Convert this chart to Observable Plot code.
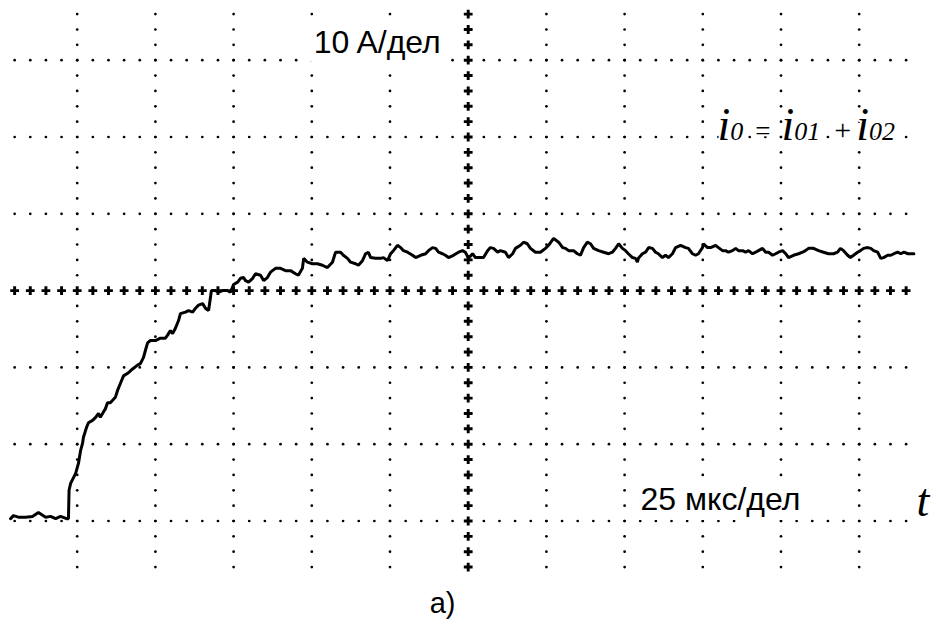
<!DOCTYPE html>
<html><head><meta charset="utf-8">
<script src="https://cdn.jsdelivr.net/npm/d3@7"></script>
<script src="https://cdn.jsdelivr.net/npm/@observablehq/plot@0.6"></script>
<style>body{margin:0;background:#fff} svg{display:block}</style>
</head><body><div id="chart"></div>
<script>
// time in μs (25 μs per division), current in A (10 A per division)
const traceT = [-21.3,-20.4,-18.8,-16.5,-14.3,-12.4,-10.1,-8.5,-6.9,-5.3,
-3.4,-2.8,-2.6,-2.1,-0.5,0.4,1.1,1.7,2.0,3.0,
3.6,4.9,5.9,6.8,7.4,8.1,9.0,9.7,10.6,12.2,
12.9,13.8,14.8,16.4,17.7,19.3,20.2,21.2,21.8,22.5,
23.4,25.0,26.6,28.2,28.9,29.8,30.5,31.4,32.4,33.0,
34.6,35.6,36.9,37.8,38.8,40.1,41.0,42.0,42.6,42.9,
44.2,45.2,46.5,48.1,49.0,50.0,51.3,52.2,53.2,53.8,
54.8,56.1,57.0,58.6,59.6,60.8,61.8,63.4,65.0,66.6,
68.2,69.8,70.7,72.0,72.4,73.6,75.2,76.8,78.4,80.0,
81.6,82.6,84.2,85.1,86.4,87.4,89.0,89.9,91.2,92.2,
93.1,93.8,95.4,97.0,97.9,99.2,100.2,101.1,102.4,103.4,
104.3,105.6,107.2,108.2,109.8,111.4,112.3,113.6,114.6,115.5,
116.8,117.7,118.7,120.3,121.9,123.2,124.1,125.1,126.4,127.3,
128.3,129.9,131.2,132.1,133.1,134.4,135.3,136.9,137.9,139.2,
140.1,141.7,142.7,143.9,144.9,146.5,148.1,149.7,150.7,152.3,
153.9,155.2,156.1,157.1,158.7,159.9,160.9,161.9,163.1,164.1,
165.1,166.7,168.3,169.9,171.1,172.1,173.1,174.3,175.3,176.2,
177.5,178.5,179.1,179.4,180.7,181.7,182.7,183.9,184.9,185.8,
187.1,188.1,189.0,190.3,191.3,192.9,194.5,195.4,196.7,197.7,
198.6,199.9,200.2,201.5,202.5,204.1,205.0,206.3,207.3,208.2,
209.5,210.5,211.4,212.7,213.7,214.6,215.9,216.9,217.8,219.1,
220.1,221.0,222.3,223.3,224.2,225.5,226.5,227.4,229.0,230.6,
231.9,232.8,233.8,235.4,237.0,238.6,240.2,241.8,243.1,244.0,
245.0,246.3,247.2,248.2,249.5,250.4,251.4,252.7,253.7,254.6,
255.9,256.9,257.8,259.1,260.1,261.1,262.3,263.3,264.3,265.6,
266.5,267.5];
const traceI = [0.3,0.7,0.5,0.5,0.6,1.1,0.5,0.6,0.3,0.6,
0.3,0.3,4.0,4.9,6.2,7.5,9.2,10.1,10.9,12.2,
12.8,13.1,13.5,14.0,13.5,14.0,14.6,15.4,15.4,16.1,
17.0,17.9,18.9,19.3,19.8,20.3,20.5,21.3,22.2,23.2,
23.5,23.5,23.8,23.8,24.2,24.8,24.4,25.1,26.1,27.0,
27.2,27.4,27.2,27.7,28.1,28.3,27.7,27.4,29.1,30.0,
30.0,29.8,30.0,30.0,29.8,30.8,31.1,31.6,31.7,31.3,
31.1,31.6,32.2,32.0,31.3,31.7,32.4,32.9,32.9,32.6,
32.6,32.2,32.0,32.9,34.2,33.7,33.5,33.5,33.3,33.0,
33.7,35.0,35.0,34.6,34.2,33.7,33.5,33.3,33.9,34.8,
35.0,34.3,34.2,34.2,34.3,33.9,34.8,35.2,35.9,35.6,
35.2,35.0,34.6,34.3,34.6,34.8,35.2,35.6,35.5,35.0,
34.8,34.6,34.3,34.6,35.0,35.2,35.0,34.2,34.8,34.3,
34.3,34.3,35.2,35.6,35.5,35.0,35.2,35.0,34.3,34.8,
35.5,35.9,36.3,36.1,35.5,35.0,35.0,35.5,35.9,36.8,
36.3,35.6,35.5,35.2,35.2,34.8,34.6,35.6,36.3,36.1,
35.5,35.2,35.0,34.8,35.0,35.5,36.1,35.5,35.2,34.8,
34.3,34.2,33.7,34.2,34.8,35.0,35.6,35.5,35.0,34.8,
34.3,34.6,34.3,34.8,35.6,35.9,35.6,35.5,34.8,34.6,
34.8,35.6,36.1,35.6,35.6,35.9,35.6,35.2,35.2,35.0,
35.2,35.5,35.2,35.2,35.0,35.2,34.8,35.0,35.2,35.5,
35.0,35.0,34.6,34.8,35.0,35.2,34.8,34.3,34.6,34.8,
35.0,35.2,35.5,35.5,35.2,35.0,34.8,34.8,35.0,35.5,
35.2,34.6,34.3,34.6,35.0,35.2,35.5,35.6,35.5,35.2,
35.0,34.2,34.3,34.6,34.6,34.8,35.0,34.8,35.0,34.8,
34.8,34.8];

// graticule divisions
const timeDivs = [0, 25, 50, 75, 100, 125, 150, 175, 200, 225, 250];
const currentDivs = [0, 10, 20, 30, 40, 50, 60];
const centerT = 125, centerI = 30;

const labelCurrentScale = "10 A/дел";
const labelTimeScale = "25 мкс/дел";
const labelFormula = "i0 = i01 + i02";
const labelAxis = "t";
const caption = "a)";

const n = Math.min(traceT.length, traceI.length);
const trace = d3.range(n).map(k => ({t: traceT[k], i: traceI[k]}));

// minor graticule dots every 1/5 division
const hDotsT = d3.range(-20, 265.01, 5);
const vDotsI = d3.range(-6, 66.01, 2);
const gridDots = [];
for (const i of currentDivs) if (i !== centerI) for (const t of hDotsT) gridDots.push({t, i});
for (const t of timeDivs) if (t !== centerT) for (const i of vDotsI) gridDots.push({t, i});
const centerCross = [
  ...hDotsT.map(t => ({t, i: centerI})),
  ...vDotsI.map(i => ({t: centerT, i}))
];

const sans = "'Liberation Sans', Arial, sans-serif";
const serif = "'Liberation Serif', 'Times New Roman', serif";

const chart = Plot.plot({
  width: 938,
  height: 627,
  margin: 0,
  style: {background: "white"},
  x: {domain: [0, 250], range: [76.7, 858.7], axis: null},
  y: {domain: [0, 60], range: [520.5, 59.7], axis: null},
  marks: [
    Plot.dot(gridDots, {x: "t", y: "i", r: 1.35, fill: "black", stroke: null}),
    Plot.dot(centerCross, {x: "t", y: "i", r: 3.7, symbol: "cross", fill: "black", stroke: null}),
    Plot.line(trace, {x: "t", y: "i", stroke: "black", strokeWidth: 3, strokeLinejoin: "miter"}),
    Plot.text([labelCurrentScale], {x: 75.6, y: 60.9, text: d => d, textAnchor: "start", lineAnchor: "bottom",
      fontSize: 32, fontFamily: sans, fill: "black", stroke: "white", strokeWidth: 20, paintOrder: "stroke", strokeLinejoin: "round"}),
    Plot.text([labelTimeScale], {x: 180.1, y: 1.37, text: d => d, textAnchor: "start", lineAnchor: "bottom",
      fontSize: 32, fontFamily: sans, fill: "black", stroke: "white", strokeWidth: 20, paintOrder: "stroke", strokeLinejoin: "round"}),
    Plot.text([labelFormula], {x: 204.7, y: 49.55, text: d => d, textAnchor: "start", lineAnchor: "bottom",
      fontSize: 26, fontFamily: serif, fontStyle: "italic", fill: "black", stroke: "white", strokeWidth: 4, paintOrder: "stroke"}),
    Plot.text([labelAxis], {x: 268.3, y: 0.59, text: d => d, textAnchor: "start", lineAnchor: "bottom",
      fontSize: 46, fontFamily: serif, fontStyle: "italic", fill: "black"}),
    Plot.text([caption], {x: 116.8, y: -12.0, text: d => d, textAnchor: "middle", lineAnchor: "bottom",
      fontSize: 29, fontFamily: sans, fill: "black"})
  ]
});

// rich-text formula: large italic i with smaller italic subscripts on the baseline
chart.querySelectorAll("text").forEach(el => {
  if (el.textContent === labelFormula) {
    const parts = [
      {s: "i", size: 46},
      {s: "0", size: 26},
      {s: "=", size: 27, dx: 12, upright: true},
      {s: "i", size: 46, dx: 11},
      {s: "01", size: 26},
      {s: "+", size: 30, dx: 14, upright: true},
      {s: "i", size: 46, dx: 5},
      {s: "02", size: 26}
    ];
    el.textContent = "";
    for (const p of parts) {
      const ts = document.createElementNS("http://www.w3.org/2000/svg", "tspan");
      ts.textContent = p.s;
      ts.setAttribute("font-size", p.size);
      if (p.dx) ts.setAttribute("dx", p.dx);
      if (p.upright) ts.setAttribute("font-style", "normal");
      el.appendChild(ts);
    }
  }
});

document.getElementById("chart").appendChild(chart);
</script>
</body></html>
